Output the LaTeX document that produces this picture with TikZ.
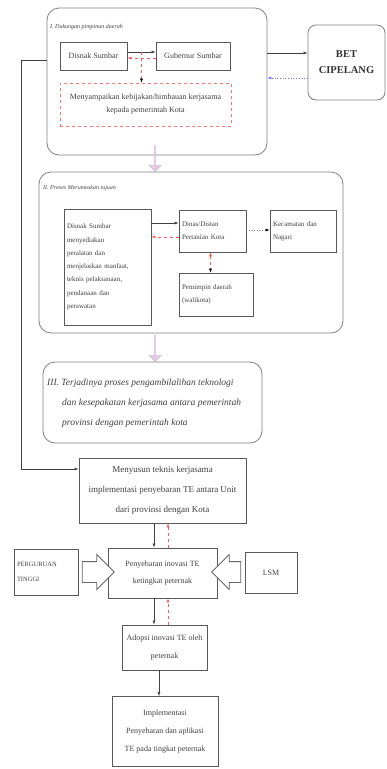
\documentclass[tikz,border=0pt]{standalone}
\usepackage{fontspec}
\setmainfont{Liberation Serif}
\usetikzlibrary{positioning,calc,arrows.meta,shapes.arrows}
\tikzstyle{tahap} = [rectangle, rounded corners=12pt, draw=black!50, line width=0.8pt]
\tikzstyle{kotak} = [rectangle, draw=black!65, line width=0.8pt, align=center, text=black!75, font=\fontsize{8}{13}\selectfont, inner sep=3pt]
\tikzstyle{judul} = [anchor=west, text=black!75, font=\itshape\fontsize{6}{8}\selectfont, inner sep=0pt]
\tikzstyle{panah} = [black!75, line width=0.6pt, -{Latex[length=4pt,width=3pt]}]
\tikzstyle{balik} = [red!65, dashed, line width=0.5pt, -{Latex[length=4pt,width=3pt]}]
\tikzstyle{lanjut} = [single arrow, shape border rotate=270, draw=violet!35, fill=violet!20, minimum width=12pt, minimum height=26pt, single arrow head extend=2pt, inner sep=0pt, inner ysep=3pt]
\tikzstyle{dorong} = [single arrow, draw=black!60, line width=0.8pt, fill=white, minimum width=34pt, minimum height=32pt, single arrow head extend=7pt, inner xsep=0pt, inner ysep=10pt]

\begin{document}
\begin{tikzpicture}[x=1pt,y=-1pt]
\useasboundingbox (0,0) rectangle (387,769);
% tahap I
\node (tahap1) [tahap, minimum width=220pt, minimum height=147pt] at (157,81.5) {};
\node (judul1) [judul] at (50,27) {I. Dukungan pimpinan daerah};
\node (disnak) [kotak, minimum width=67pt, minimum height=28pt] at (93.5,56) {Disnak Sumbar};
\node (gubernur) [kotak, minimum width=74pt, minimum height=28pt] at (193,56) {Gubernur Sumbar};
\node (himbau) [kotak, draw=red!55, dashed, minimum width=171pt, minimum height=43pt] at (145.5,104.5) {Menyampaikan kebijakan/himbauan kerjasama\\kepada pemerintah Kota};
\node (bet) [tahap, rounded corners=8pt, minimum width=77pt, minimum height=75pt, align=center, text=black!80, font=\bfseries\fontsize{10.5}{16}\selectfont] at (346.5,62.5) {BET\\CIPELANG};
\draw [panah] ([yshift=4pt]disnak.east) -- coordinate (cabang) ([yshift=4pt]gubernur.west);
\draw [balik] ([yshift=-2pt]gubernur.west) -- ([yshift=-2pt]disnak.east);
\draw [balik,-{Latex[length=4pt,width=3pt,black]}] (cabang) -- (cabang |- himbau.north);
\draw [panah] ([yshift=28.5pt]tahap1.east) -- ([yshift=28.5pt]tahap1.east -| bet.west);
\draw [blue!55, dotted, line width=0.7pt, -{Latex[length=4pt,width=3pt]}] ([yshift=-15.5pt]bet.west) -- ([yshift=-15.5pt]bet.west -| tahap1.east);
\node (maju1) [lanjut] at (155,158) {};
% tahap II
\node (tahap2) [tahap, minimum width=304pt, minimum height=161pt] at (191,252.5) {};
\node (judul2) [judul] at (43,188) {II. Proses Merumuskan tujuan};
\node (disnak2) [kotak, align=left, text width=81pt, minimum height=116pt, font=\fontsize{7}{13.3}\selectfont] at (107.5,267) {Disnak Sumbar\\menyediakan\\peralatan dan\\menjelaskan manfaat,\\teknis pelaksanaan,\\pendanaan dan\\perawatan};
\node (distan) [kotak, align=left, text width=61pt, minimum height=42pt, font=\fontsize{7}{13}\selectfont] at (212.5,231) {Dinas/Distan\\Pertanian Kota};
\node (camat) [kotak, align=left, text width=60pt, minimum height=42pt, font=\fontsize{7}{13}\selectfont] at (303,231) {Kecamatan dan\\Nagari};
\node (walikota) [kotak, align=left, text width=68pt, minimum height=43pt, font=\fontsize{7}{13}\selectfont] at (216,294.5) {Pemimpin daerah\\(walikota)};
\draw [panah] ([yshift=8pt]distan.west -| disnak2.east) -- ([yshift=8pt]distan.west);
\draw [balik] ([yshift=-6pt]distan.west) -- ([yshift=-6pt]distan.west -| disnak2.east);
\draw [gray, dotted, line width=0.6pt, -{Latex[length=4pt,width=3pt,black]}] ([yshift=1pt]distan.east) -- ([yshift=1pt]camat.west);
\draw [balik,{Latex[length=4pt,width=3pt]}-{Latex[length=4pt,width=3pt,black]}] ([xshift=-2pt]distan.south) -- ([xshift=-2pt]distan.south |- walikota.north);
\node (maju2) [lanjut] at (155,348) {};
% tahap III
\node (tahap3) [tahap, minimum width=219pt, minimum height=81pt] at (152.5,402.5) {};
\node (isi3) [judul, align=left, font=\itshape\fontsize{9.5}{20}\selectfont] at (47,403) {III. Terjadinya proses pengambilalihan teknologi\\\hspace*{15pt}dan kesepakatan kerjasama antara pemerintah\\\hspace*{15pt}provinsi dengan pemerintah kota};
% pelaksanaan
\node (menyusun) [kotak, minimum width=167pt, minimum height=65pt, font=\fontsize{9}{20}\selectfont] at (162.5,490.5) {Menyusun teknis kerjasama\\implementasi penyebaran TE antara Unit\\dari provinsi dengan Kota};
\coordinate (sisi) at (21,60);
\draw [panah] ([yshift=21.5pt]tahap1.west) -- (sisi) |- ([yshift=21.5pt]menyusun.west);
\node (sebar) [kotak, minimum width=109pt, minimum height=50pt, font=\fontsize{8}{17}\selectfont] at (162.5,573) {Penyebaran inovasi TE\\ketingkat peternak};
\draw [panah] ([xshift=-8.5pt]menyusun.south) -- ([xshift=-8.5pt]menyusun.south |- sebar.north);
\draw [balik] ([xshift=5.5pt]menyusun.south |- sebar.north) -- ([xshift=5.5pt]menyusun.south);
\node (pt) [kotak, align=left, text width=58pt, minimum height=46pt, font=\fontsize{6.5}{15}\selectfont] at (46,572) {PERGURUAN\\TINGGI};
\node (lsm) [kotak, minimum width=52pt, minimum height=41pt] at (271,572.5) {LSM};
\node (dorong1) [dorong] at (93,572) {};
\node (dorong2) [dorong, shape border rotate=180, minimum height=29pt] at (231.5,572) {};
\node (adopsi) [kotak, minimum width=85pt, minimum height=45pt, font=\fontsize{8}{18}\selectfont] at (164.5,647.5) {Adopsi inovasi TE oleh\\peternak};
\draw [panah] ([xshift=-8.5pt]sebar.south) -- ([xshift=-8.5pt]sebar.south |- adopsi.north);
\draw [balik] ([xshift=5.5pt]sebar.south |- adopsi.north) -- ([xshift=5.5pt]sebar.south);
\node (terap) [kotak, minimum width=106pt, minimum height=70pt, font=\fontsize{8}{18}\selectfont] at (165,731.5) {Implementasi\\Penyebaran dan aplikasi\\TE pada tingkat peternak};
\draw [panah] ([xshift=-5.5pt]adopsi.south) -- ([xshift=-5.5pt]adopsi.south |- terap.north);
\end{tikzpicture}
\end{document}
